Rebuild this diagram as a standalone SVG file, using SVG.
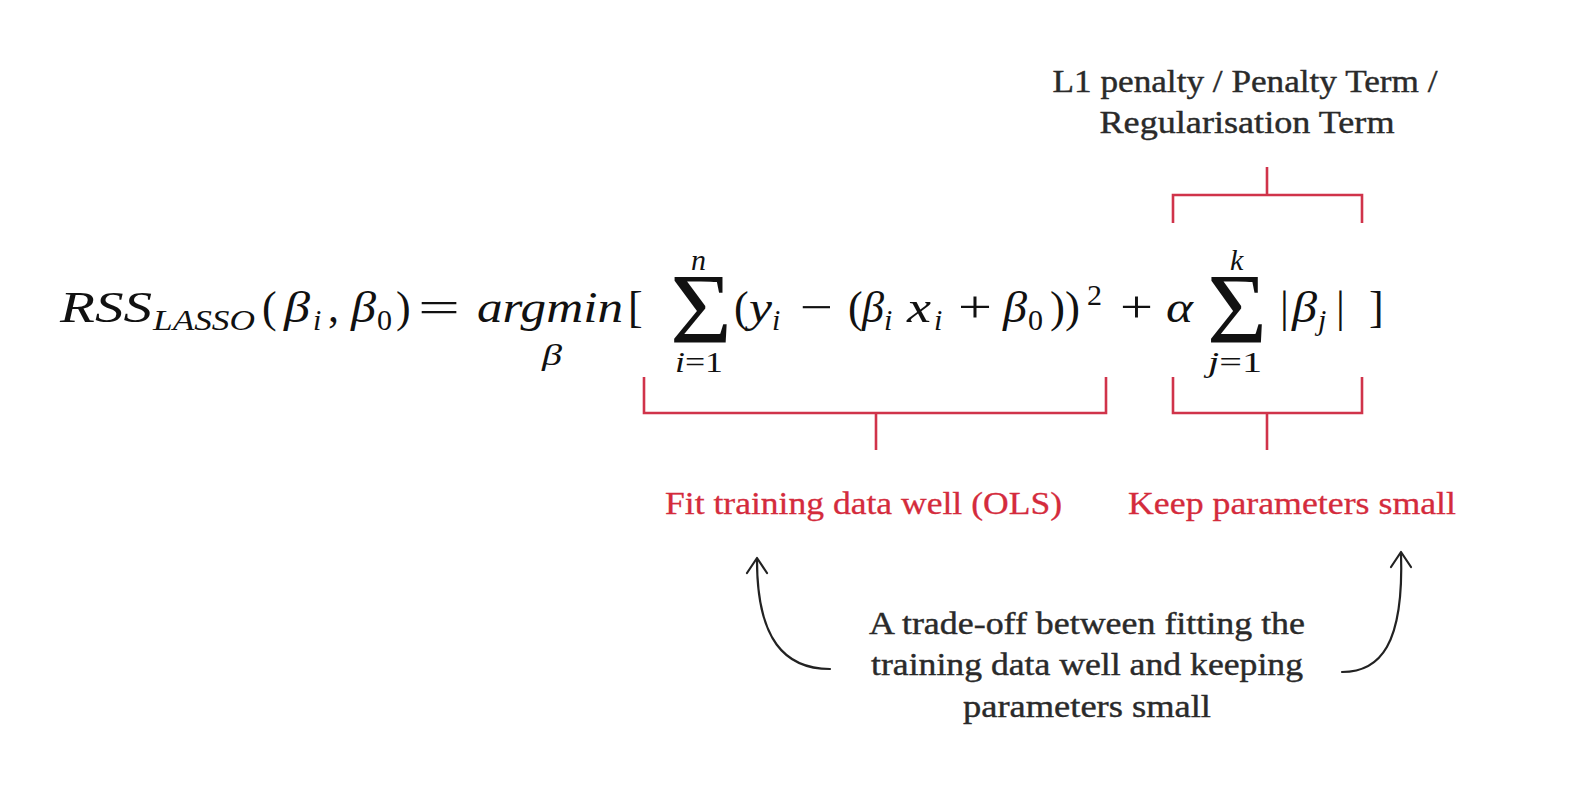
<svg xmlns="http://www.w3.org/2000/svg" width="1578" height="790" viewBox="0 0 1578 790">
<style>
.m{font-family:"Liberation Serif","DejaVu Serif",serif;font-size:44px;fill:#111;font-style:italic}
.u{font-style:normal}
.s{font-size:30px}
.big{font-family:"Liberation Serif","DejaVu Serif",serif;font-size:100px;fill:#111}
.lbl{font-family:"Liberation Serif","DejaVu Serif",serif;font-size:31px;fill:#2a2a2a;stroke:#2a2a2a;stroke-width:0.4;text-anchor:middle}
.red{font-family:"Liberation Serif","DejaVu Serif",serif;font-size:32px;fill:#d42b3c;stroke:#d42b3c;stroke-width:0.3}
.br{fill:none;stroke:#d0334a;stroke-width:2.6}
.arr{fill:none;stroke:#222;stroke-width:2.2;stroke-linecap:round;stroke-linejoin:round}
</style>
<rect width="1578" height="790" fill="#fff"/>

<g id="equation">
  <text class="m" x="60" y="322" textLength="92" lengthAdjust="spacingAndGlyphs">RSS</text>
  <text class="m s" x="153" y="330" textLength="102" lengthAdjust="spacingAndGlyphs">LASSO</text>
  <text class="m u" x="262" y="322">(</text>
  <text class="m" x="284" y="322" textLength="26" lengthAdjust="spacingAndGlyphs">β</text>
  <text class="m s" x="313" y="330">i</text>
  <text class="m u" x="328" y="322">,</text>
  <text class="m" x="351" y="322" textLength="25" lengthAdjust="spacingAndGlyphs">β</text>
  <text class="m u s" x="377" y="330">0</text>
  <text class="m u" x="396" y="322">)</text>
  <text class="m u" x="418" y="322" textLength="42" lengthAdjust="spacingAndGlyphs">=</text>
  <text class="m" x="477" y="322" textLength="146" lengthAdjust="spacingAndGlyphs">argmin</text>
  <text class="m s" x="542" y="365" textLength="20" lengthAdjust="spacingAndGlyphs">β</text>
  <text class="m u" x="628" y="322">[</text>

  <text class="big" x="670" y="342" textLength="62" lengthAdjust="spacingAndGlyphs">Σ</text>
  <text class="m s" x="691" y="270">n</text>
  <text class="m s" x="675" y="372" textLength="48" lengthAdjust="spacingAndGlyphs">i<tspan class="u">=1</tspan></text>

  <text class="m u" x="734" y="322">(</text>
  <text class="m" x="749" y="322" textLength="23" lengthAdjust="spacingAndGlyphs">y</text>
  <text class="m s" x="772" y="330">i</text>
  <text class="m u" x="800" y="322" textLength="33" lengthAdjust="spacingAndGlyphs">−</text>
  <text class="m u" x="848" y="322">(</text>
  <text class="m" x="862" y="322" textLength="22" lengthAdjust="spacingAndGlyphs">β</text>
  <text class="m s" x="884" y="330">i</text>
  <text class="m" x="907" y="322" textLength="24" lengthAdjust="spacingAndGlyphs">x</text>
  <text class="m s" x="934" y="330">i</text>
  <text class="m u" x="958" y="322" textLength="34" lengthAdjust="spacingAndGlyphs">+</text>
  <text class="m" x="1003" y="322" textLength="24" lengthAdjust="spacingAndGlyphs">β</text>
  <text class="m u s" x="1028" y="330">0</text>
  <text class="m u" x="1050" y="322" textLength="30" lengthAdjust="spacingAndGlyphs">))</text>
  <text class="m u s" x="1087" y="305">2</text>
  <text class="m u" x="1120" y="322" textLength="33" lengthAdjust="spacingAndGlyphs">+</text>
  <text class="m" x="1166" y="322" textLength="27" lengthAdjust="spacingAndGlyphs">α</text>

  <text class="big" x="1207" y="342" textLength="60" lengthAdjust="spacingAndGlyphs">Σ</text>
  <text class="m s" x="1230" y="270">k</text>
  <text class="m s" x="1208" y="372" textLength="54" lengthAdjust="spacingAndGlyphs">j<tspan class="u">=1</tspan></text>

  <text class="m u" x="1280" y="322">|</text>
  <text class="m" x="1292" y="322" textLength="25" lengthAdjust="spacingAndGlyphs">β</text>
  <text class="m s" x="1318" y="330">j</text>
  <text class="m u" x="1336" y="322">|</text>
  <text class="m u" x="1369" y="322">]</text>
</g>

<g id="label-penalty">
  <text class="lbl" x="1245" y="92" textLength="385" lengthAdjust="spacingAndGlyphs">L1 penalty / Penalty Term /</text>
  <text class="lbl" x="1247" y="133" textLength="295" lengthAdjust="spacingAndGlyphs">Regularisation Term</text>
</g>

<g id="label-ols">
  <text class="red" x="665" y="514" textLength="397" lengthAdjust="spacingAndGlyphs">Fit training data well (OLS)</text>
</g>

<g id="label-small">
  <text class="red" x="1128" y="514" textLength="328" lengthAdjust="spacingAndGlyphs">Keep parameters small</text>
</g>

<g id="label-tradeoff">
  <text class="lbl" x="1087" y="634" textLength="436" lengthAdjust="spacingAndGlyphs">A trade-off between fitting the</text>
  <text class="lbl" x="1087" y="675" textLength="432" lengthAdjust="spacingAndGlyphs">training data well and keeping</text>
  <text class="lbl" x="1087" y="717" textLength="248" lengthAdjust="spacingAndGlyphs">parameters small</text>
</g>

<g id="connectors">
  <path class="br" d="M1173,223 V195 H1362 V223 M1267,195 V167"/>
  <path class="br" d="M644,377 V413 H1106 V377 M876,413 V450"/>
  <path class="br" d="M1173,377 V413 H1362 V377 M1267,413 V450"/>
  <path class="arr" d="M830,669 C785,669 757,640 757,560"/>
  <path class="arr" d="M747,573 L757,558 L767,573"/>
  <path class="arr" d="M1342,672 C1380,672 1404,645 1401,553"/>
  <path class="arr" d="M1391,567 L1401,552 L1411,567"/>
</g>
</svg>
